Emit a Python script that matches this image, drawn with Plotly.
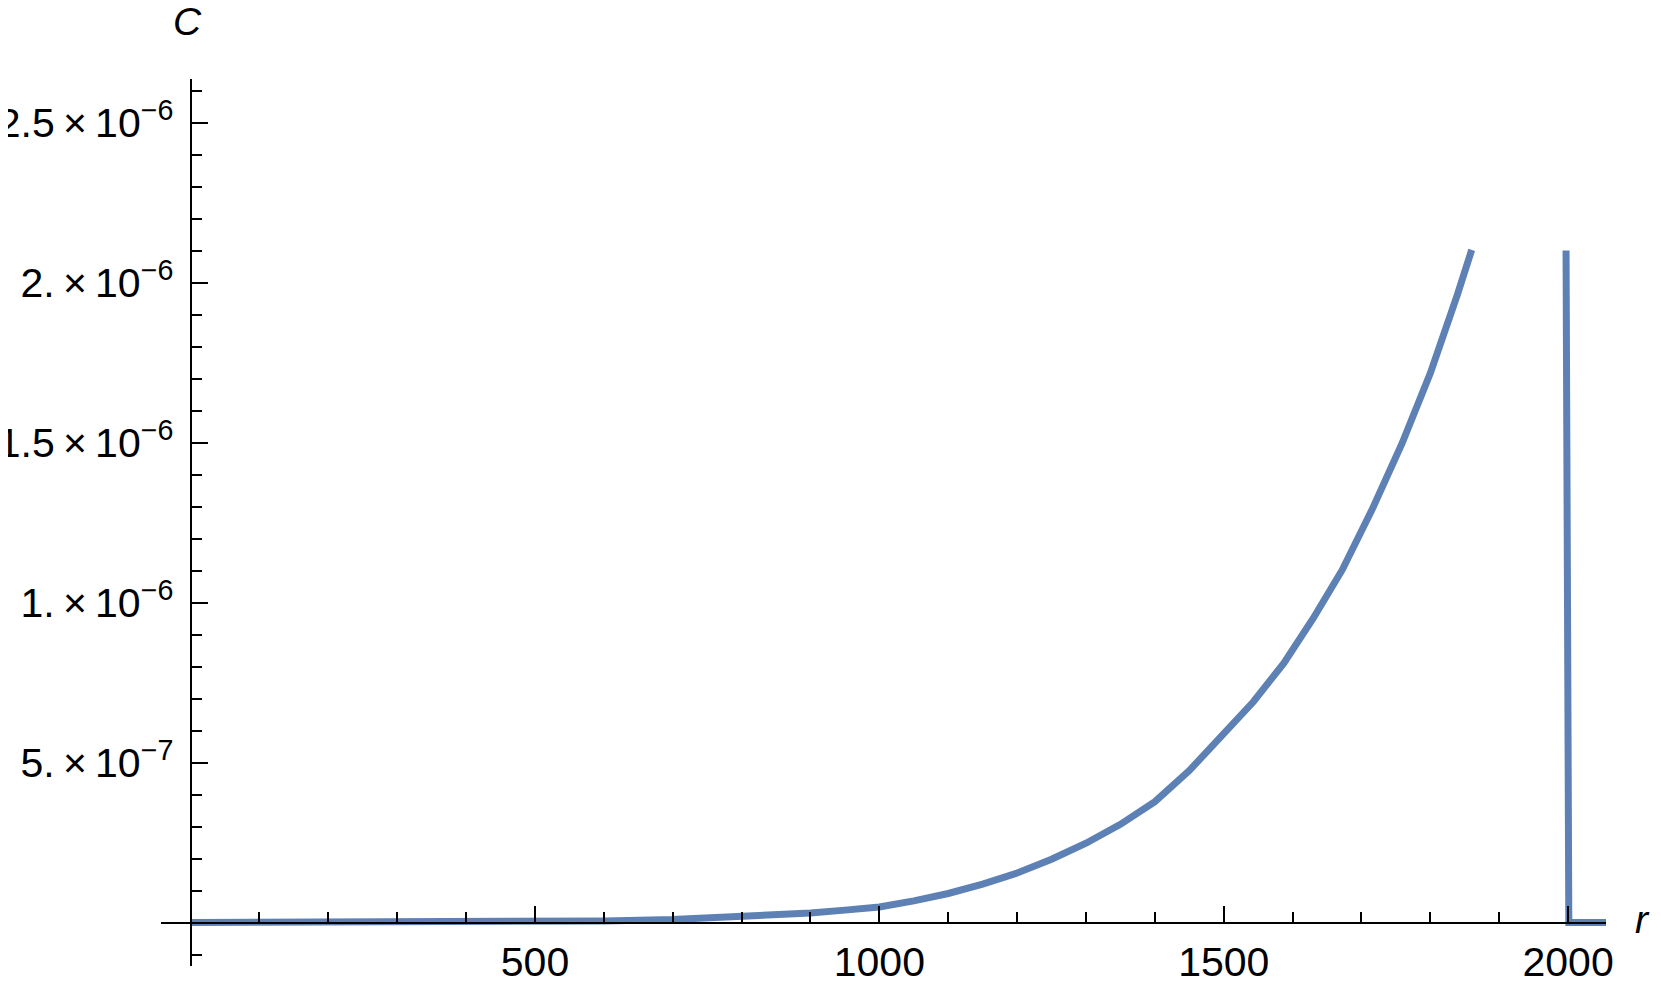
import plotly.graph_objects as go

# C in units of 1e-6
r_curve = [0, 100, 200, 300, 400, 500, 600, 700, 800, 900, 950, 1000, 1050, 1100,
           1150, 1200, 1250, 1300, 1350, 1400, 1450, 1500, 1543, 1587, 1630, 1672,
           1715, 1759, 1800, 1839, 1860]
c_curve = [0, 0, 0.0001, 0.0004, 0.001, 0.002, 0.005, 0.01, 0.018, 0.03, 0.039, 0.049,
           0.068, 0.091, 0.12, 0.155, 0.198, 0.248, 0.307, 0.378, 0.475, 0.588, 0.69,
           0.81, 0.951, 1.102, 1.289, 1.498, 1.717, 1.961, 2.102]
r_edge = [1997, 2001, 2055]
c_edge = [2.10, 0, 0]

x_ticks = [500, 1000, 1500, 2000]
x_labels = ["500", "1000", "1500", "2000"]
y_ticks = [0.5e-6, 1e-6, 1.5e-6, 2e-6, 2.5e-6]
y_labels = ["5.\u2009×\u200910<sup>−7</sup>", "1.\u2009×\u200910<sup>−6</sup>",
            "1.5\u2009×\u200910<sup>−6</sup>", "2.\u2009×\u200910<sup>−6</sup>",
            "2.5\u2009×\u200910<sup>−6</sup>"]

x_min, x_max = -43, 2055
y_min, y_max = -0.1356e-6, 2.636e-6

blue = "#5E81B5"
font = "Liberation Sans, Arial, sans-serif"

fig = go.Figure()
fig.add_trace(go.Scatter(x=r_curve, y=[v * 1e-6 for v in c_curve], mode="lines",
                         line=dict(color=blue, width=7), showlegend=False))
fig.add_trace(go.Scatter(x=r_edge, y=[v * 1e-6 for v in c_edge], mode="lines",
                         line=dict(color=blue, width=7), showlegend=False))

# axes cross at the origin, like Mathematica
x_pos = (0 - y_min) / (y_max - y_min)
y_pos = (0 - x_min) / (x_max - x_min)

fig.update_xaxes(range=[x_min, x_max], anchor="free", position=x_pos,
                 showline=True, linecolor="black", linewidth=2, showgrid=False,
                 zeroline=False, automargin=False,
                 tickmode="array", tickvals=x_ticks, ticktext=x_labels,
                 ticks="inside", ticklen=16, tickwidth=2, tickcolor="black",
                 ticklabelstandoff=3,
                 minor=dict(tickmode="array", tickvals=list(range(100, 2001, 100)),
                            ticks="inside", ticklen=10, tickwidth=2, tickcolor="black"),
                 tickfont=dict(family=font, size=41, color="black"))
fig.update_yaxes(range=[y_min, y_max], anchor="free", position=y_pos,
                 showline=True, linecolor="black", linewidth=2, showgrid=False,
                 zeroline=False, automargin=False,
                 tickmode="array", tickvals=y_ticks, ticktext=y_labels,
                 ticks="inside", ticklen=16, tickwidth=2, tickcolor="black",
                 ticklabelstandoff=8,
                 minor=dict(tickmode="array", tickvals=[k * 1e-7 for k in range(-1, 27)],
                            ticks="inside", ticklen=10, tickwidth=2, tickcolor="black"),
                 tickfont=dict(family=font, size=41, color="black"))

fig.add_annotation(text="<i>C</i>", x=0, y=1, xref="x", yref="paper",
                   xanchor="center", yanchor="middle", xshift=-3, yshift=58,
                   showarrow=False, font=dict(family=font, size=39, color="black"))
fig.add_annotation(text="<i>r</i>", x=1, y=0, xref="paper", yref="y",
                   xanchor="center", yanchor="middle", xshift=36, yshift=3,
                   showarrow=False, font=dict(family=font, size=39, color="black"))

# page body has an 8px margin, so the figure is made 16px smaller
fig.update_layout(width=1645, height=968, plot_bgcolor="white", paper_bgcolor="white",
                  margin=dict(l=153, r=47, t=71, b=10, autoexpand=False))

fig.write_html("out.html")
